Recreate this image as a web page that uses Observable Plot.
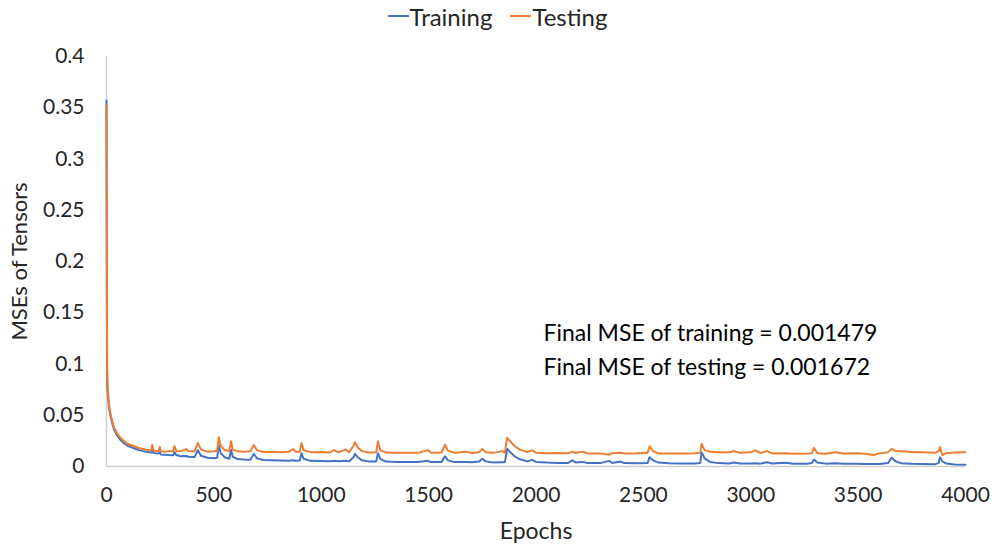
<!DOCTYPE html>
<html>
<head>
<meta charset="utf-8">
<script src="https://cdn.jsdelivr.net/npm/d3@7"></script>
<script src="https://cdn.jsdelivr.net/npm/@observablehq/plot@0.6"></script>
<style>
  body { margin: 0; background: #fff; font-family: Lato, "Open Sans", sans-serif; }
  #legend { height: 32px; display: flex; justify-content: center; align-items: center; gap: 18px; font-size: 24px; color: #262626; padding-left: 0px; box-sizing: border-box; }
  .item { display: flex; align-items: center; }
  .sw { display: inline-block; width: 21px; height: 2px; margin-right: 1px; }
</style>
</head>
<body>
<div id="legend"></div>
<div id="chart"></div>
<script>
const seriesNames = ["Training", "Testing"];
const seriesColors = ["#4472C4", "#ED7D31"];
const xTicks = [0, 500, 1000, 1500, 2000, 2500, 3000, 3500, 4000];
const yTicks = [0, 0.05, 0.1, 0.15, 0.2, 0.25, 0.3, 0.35, 0.4];
const annotations = ["Final MSE of training = 0.001479", "Final MSE of testing = 0.001672"];
const annotationX = 2035;
const annotationY = [0.1298, 0.0966];

const epochs = [0,1,2,3,5,8,12,18,26,35,50,65,80,100,126,150,180,200,208,213,218,230,243,248,253,270,290,310,317,325,345,372,380,410,425,440,470,500,515,523,532,550,572,580,588,610,640,670,686,700,730,770,810,850,869,880,900,908,918,950,1000,1040,1059,1080,1113,1130,1150,1157,1170,1190,1220,1256,1264,1275,1300,1350,1400,1450,1497,1510,1560,1576,1590,1620,1677,1700,1735,1750,1765,1800,1843,1855,1866,1880,1900,1925,1960,1982,2000,2050,2100,2150,2169,2185,2215,2240,2300,2340,2355,2394,2410,2470,2520,2529,2545,2570,2620,2680,2740,2765,2771,2785,2810,2850,2900,2921,2950,3000,3022,3045,3077,3100,3162,3200,3260,3285,3294,3310,3350,3395,3430,3496,3530,3572,3600,3640,3656,3675,3700,3750,3800,3860,3875,3881,3892,3910,3950,4000];

const training = [0.357,0.25,0.15,0.09,0.075,0.066,0.057,0.050,0.043,0.036,0.030,0.026,0.023,0.020,0.018,0.016,0.0145,0.0138,0.0135,0.0150,0.0133,0.0130,0.0128,0.0140,0.0118,0.0115,0.0112,0.0110,0.0140,0.0112,0.0100,0.0102,0.0095,0.0092,0.0160,0.0105,0.0085,0.0080,0.0085,0.0205,0.0130,0.0090,0.0075,0.0163,0.0095,0.0072,0.0068,0.0066,0.0124,0.0080,0.0063,0.0060,0.0058,0.0057,0.0060,0.0056,0.0058,0.0130,0.0075,0.0055,0.0053,0.0052,0.0055,0.0051,0.0055,0.0052,0.0090,0.0124,0.0090,0.0060,0.0050,0.0050,0.0130,0.0075,0.0048,0.0045,0.0044,0.0043,0.0055,0.0044,0.0045,0.0100,0.0060,0.0043,0.0043,0.0042,0.0048,0.0075,0.0050,0.0040,0.0042,0.0042,0.0172,0.0140,0.0100,0.0070,0.0050,0.0065,0.0045,0.0038,0.0035,0.0035,0.0059,0.0040,0.0045,0.0034,0.0033,0.0055,0.0034,0.0048,0.0033,0.0032,0.0035,0.0091,0.0060,0.0038,0.0032,0.0030,0.0030,0.0035,0.0140,0.0080,0.0045,0.0033,0.0030,0.0038,0.0030,0.0029,0.0031,0.0028,0.0042,0.0030,0.0036,0.0028,0.0027,0.0035,0.0068,0.0040,0.0028,0.0032,0.0026,0.0026,0.0025,0.0025,0.0025,0.0035,0.0085,0.0050,0.0032,0.0026,0.0024,0.0023,0.0035,0.0091,0.0050,0.0030,0.0020,0.0016];

const testing = [0.352,0.26,0.16,0.095,0.078,0.069,0.060,0.052,0.045,0.038,0.032,0.028,0.025,0.022,0.020,0.018,0.0165,0.0158,0.0152,0.0210,0.0160,0.0150,0.0152,0.0190,0.0150,0.0145,0.0150,0.0148,0.0200,0.0152,0.0150,0.0170,0.0150,0.0148,0.0230,0.0165,0.0145,0.0148,0.0150,0.0286,0.0200,0.0160,0.0150,0.0247,0.0165,0.0148,0.0145,0.0148,0.0210,0.0160,0.0142,0.0145,0.0140,0.0145,0.0170,0.0145,0.0145,0.0230,0.0160,0.0140,0.0142,0.0137,0.0160,0.0138,0.0165,0.0140,0.0200,0.0237,0.0185,0.0150,0.0137,0.0138,0.0247,0.0160,0.0136,0.0134,0.0135,0.0133,0.0160,0.0135,0.0136,0.0212,0.0155,0.0134,0.0145,0.0132,0.0140,0.0172,0.0140,0.0133,0.0150,0.0135,0.0280,0.0245,0.0200,0.0165,0.0140,0.0158,0.0135,0.0130,0.0132,0.0130,0.0145,0.0132,0.0145,0.0130,0.0128,0.0115,0.0130,0.0135,0.0128,0.0130,0.0135,0.0198,0.0150,0.0128,0.0127,0.0128,0.0130,0.0135,0.0221,0.0160,0.0145,0.0140,0.0140,0.0150,0.0135,0.0138,0.0158,0.0132,0.0150,0.0128,0.0130,0.0125,0.0127,0.0130,0.0182,0.0130,0.0125,0.0140,0.0127,0.0130,0.0125,0.0112,0.0128,0.0140,0.0172,0.0150,0.0148,0.0142,0.0138,0.0135,0.0150,0.0189,0.0112,0.0130,0.0136,0.0140];

const rows = [];
[training, testing].forEach((vals, s) => {
  vals.forEach((v, i) => rows.push({ epoch: epochs[i], mse: v, series: seriesNames[s] }));
});

// legend
const legend = document.getElementById("legend");
seriesNames.forEach((n, i) => {
  const it = document.createElement("span");
  it.className = "item";
  it.innerHTML = `<span class="sw" style="background:${seriesColors[i]}"></span>${n}`;
  legend.appendChild(it);
});

const font = "Lato, 'Open Sans', sans-serif";
const chart = Plot.plot({
  width: 995,
  height: 518,
  marginLeft: 106,
  marginRight: 30,
  marginTop: 24,
  marginBottom: 84,
  style: { fontFamily: font, fontSize: "21px", color: "#262626", background: "#fff" },
  x: { domain: [0, 4000] },
  y: { domain: [0, 0.4] },
  color: { domain: seriesNames, range: seriesColors },
  marks: [
    Plot.ruleX([0], { stroke: "#d0d0d0", strokeWidth: 1.5 }),
    Plot.ruleY([0], { stroke: "#d0d0d0", strokeWidth: 1.5 }),
    Plot.axisX({ ticks: xTicks, tickSize: 0, tickPadding: 21, tickFormat: d => `${d}`, label: null, fontSize: 21 }),
    Plot.axisX({ ticks: [], tickSize: 0, label: "Epochs", labelAnchor: "center", labelOffset: 72, labelArrow: "none", fontSize: 23 }),
    Plot.axisY({ ticks: yTicks, tickSize: 0, tickPadding: 22, tickFormat: d => `${d}`, label: null, fontSize: 21 }),
    Plot.axisY({ ticks: [], tickSize: 0, label: "MSEs of Tensors", labelAnchor: "center", labelOffset: 95, labelArrow: "none", fontSize: 22 }),
    Plot.line(rows, { x: "epoch", y: "mse", z: "series", stroke: "series", strokeWidth: 2, curve: "linear" }),
    Plot.text(annotations, { x: annotationX, y: (d, i) => annotationY[i], text: d => d, textAnchor: "start", fontSize: 23, fill: "#000" })
  ]
});
document.getElementById("chart").appendChild(chart);
</script>
</body>
</html>
